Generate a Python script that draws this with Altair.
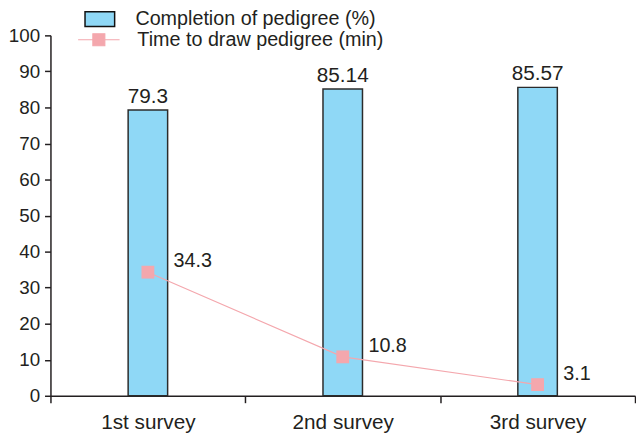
import altair as alt
import pandas as pd

surveys = ["1st survey", "2nd survey", "3rd survey"]
completion = [79.3, 85.14, 85.57]
draw_time = [34.3, 10.8, 3.1]
y_ticks = [0, 10, 20, 30, 40, 50, 60, 70, 80, 90, 100]

bar_series = "Completion of pedigree (%)"
line_series = "Time to draw pedigree (min)"

df = pd.DataFrame({
    "survey": surveys * 2,
    "series": [bar_series] * len(surveys) + [line_series] * len(surveys),
    "value": completion + draw_time,
})

FONT = "Liberation Sans"
TXT = "#231f20"
BLUE = "#8fd8f6"
PINK = "#f4a7ad"

x_axis = alt.Axis(title=None, labelAngle=0, tickBand="extent", tickSize=7,
                  labelPadding=9, labelFontSize=21)
x_scale = alt.Scale(paddingInner=0, paddingOuter=0)
y_scale = alt.Scale(domain=[0, 100], nice=False)
y_axis = alt.Axis(title=None, values=y_ticks, tickSize=6, labelPadding=5,
                  grid=False, labelOverlap=False, labelFontSize=19)

X = alt.X("survey:N", sort=surveys, scale=x_scale, axis=x_axis)
Y = alt.Y("value:Q", scale=y_scale, axis=y_axis)

base = alt.Chart(df)
bar_base = base.transform_filter(alt.datum.series == bar_series)
line_base = base.transform_filter(alt.datum.series == line_series)

rect_path = "M-1,-0.5L1,-0.5L1,0.5L-1,0.5Z"
line_path = ("M-1,0L-0.29,0M0.29,0L1,0"
             "M-0.29,-0.29L0.29,-0.29L0.29,0.29L-0.29,0.29Z")

bars = bar_base.mark_bar(size=40, stroke="#2b2b2b", strokeWidth=1.5).encode(
    x=X, y=Y,
    fill=alt.Fill(
        "series:N", scale=alt.Scale(domain=[bar_series], range=[BLUE]),
        legend=alt.Legend(
            title=None, orient="none", legendX=34, legendY=-32.5, padding=0,
            symbolType=rect_path, symbolSize=900, symbolStrokeColor="#111111",
            symbolStrokeWidth=1.5, labelFontSize=20, labelOffset=20,
            labelColor=TXT, labelFont=FONT, labelLimit=500,
        ),
    ),
)

bar_text = bar_base.mark_text(baseline="alphabetic", dy=-7, fontSize=21,
                              color=TXT, font=FONT).encode(
    x=X, y=Y, text=alt.Text("value:Q"),
)

line = line_base.mark_line(strokeWidth=1.1).encode(
    x=X, y=Y,
    stroke=alt.Stroke(
        "series:N", scale=alt.Scale(domain=[line_series], range=[PINK]),
        legend=alt.Legend(
            title=None, orient="none", legendX=27, legendY=-17.5, padding=0,
            symbolType=line_path, symbolSize=1764, symbolStrokeColor=PINK,
            symbolFillColor=PINK, symbolStrokeWidth=1.1, labelFontSize=20,
            labelOffset=17, labelColor=TXT, labelFont=FONT, labelLimit=500,
        ),
    ),
)

points = line_base.mark_point(shape="square", filled=True, size=169,
                              color=PINK, opacity=1).encode(x=X, y=Y)

point_text = line_base.mark_text(align="left", baseline="alphabetic", dx=26,
                                 dy=-5, fontSize=20, color=TXT,
                                 font=FONT).encode(
    x=X, y=Y, text=alt.Text("value:Q"),
)

chart = alt.layer(bars, bar_text, line, points, point_text).resolve_scale(
    fill="independent", stroke="independent"
).properties(
    width=592, height=365,
    autosize=alt.AutoSizeParams(type="none"),
    padding={"left": 43, "top": 25, "right": 1, "bottom": 37},
).configure_view(strokeWidth=0).configure_axis(
    labelFont=FONT, labelFontSize=20, labelColor=TXT,
    domainColor=TXT, domainWidth=1.5, tickColor=TXT, tickWidth=1.5,
)

chart.save("out.html", embed_options={"renderer": "svg", "actions": False})
